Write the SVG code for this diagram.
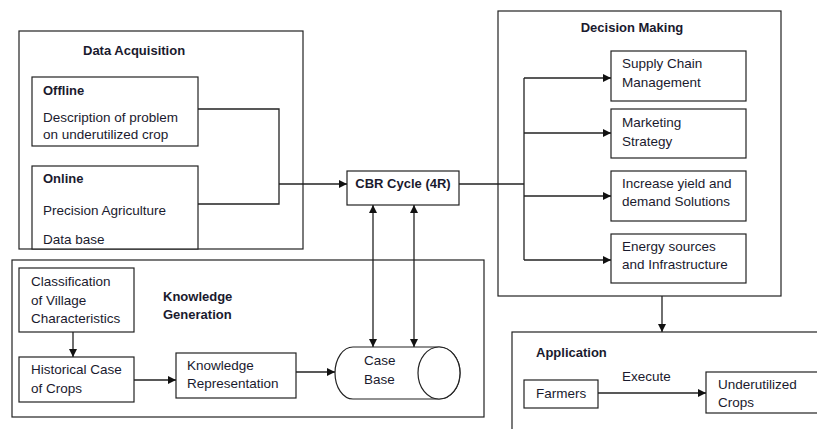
<svg xmlns="http://www.w3.org/2000/svg" width="817" height="429" viewBox="0 0 817 429">
<defs>
<marker id="ah" viewBox="0 0 10 10" refX="10" refY="5" markerWidth="8" markerHeight="8" markerUnits="userSpaceOnUse" orient="auto">
<path d="M0,0 L10,5 L0,10 z" fill="#111"/>
</marker>
<style>
rect, ellipse, path.shape { fill: #fff; stroke: #222; stroke-width: 1.2; }
.t { font-family: "Liberation Sans", Arial, sans-serif; font-size: 13.5px; fill: #1a1a2e; }
.b { font-weight: bold; font-size: 13px; }
.c { fill: none; stroke: #222; stroke-width: 1.3; }
.a { marker-end: url(#ah); }
</style>
</defs>
<rect x="0" y="0" width="817" height="429" style="fill:#fff;stroke:none"/>

<g id="data-acquisition">
<rect x="19" y="31" width="284" height="218"/>
<text class="t b" x="83" y="55">Data Acquisition</text>
</g>
<g id="offline">
<rect x="32" y="77" width="166" height="69"/>
<text class="t b" x="43" y="95">Offline</text>
<text class="t" x="43" y="122">Description of problem</text>
<text class="t" x="43" y="139">on underutilized crop</text>
</g>
<g id="online">
<rect x="32" y="166" width="166" height="83"/>
<text class="t b" x="43" y="183">Online</text>
<text class="t" x="43" y="215">Precision Agriculture</text>
<text class="t" x="43" y="244">Data base</text>
</g>

<g id="knowledge-generation">
<rect x="12" y="260" width="472" height="157"/>
<text class="t b" x="163" y="301">Knowledge</text>
<text class="t b" x="163" y="319">Generation</text>
</g>
<g id="classification">
<rect x="19" y="268" width="115" height="64"/>
<text class="t" x="31" y="286">Classification</text>
<text class="t" x="31" y="305">of Village</text>
<text class="t" x="31" y="323">Characteristics</text>
</g>
<g id="historical">
<rect x="19" y="357" width="115" height="45"/>
<text class="t" x="31" y="374">Historical Case</text>
<text class="t" x="31" y="393">of Crops</text>
</g>
<g id="knowledge-representation">
<rect x="176" y="353" width="120" height="45"/>
<text class="t" x="187" y="370">Knowledge</text>
<text class="t" x="187" y="388">Representation</text>
</g>
<g id="case-base">
<path class="shape" d="M353,347 L439,347 A21,26 0 0 1 439,399 L353,399 A18,26 0 0 1 353,347 z"/>
<ellipse cx="439" cy="373" rx="21" ry="26"/>
<text class="t" x="364" y="365">Case</text>
<text class="t" x="364" y="384">Base</text>
</g>

<g id="cbr-cycle">
<rect x="347" y="171" width="112" height="34"/>
<text class="t b" x="403" y="188" text-anchor="middle">CBR Cycle (4R)</text>
</g>

<g id="decision-making">
<rect x="498" y="11" width="283" height="285"/>
<text class="t b" x="632" y="32" text-anchor="middle">Decision Making</text>
</g>
<g id="supply-chain">
<rect x="611" y="51" width="135" height="50"/>
<text class="t" x="622" y="68">Supply Chain</text>
<text class="t" x="622" y="87">Management</text>
</g>
<g id="marketing">
<rect x="611" y="109" width="135" height="49"/>
<text class="t" x="622" y="127">Marketing</text>
<text class="t" x="622" y="146">Strategy</text>
</g>
<g id="increase-yield">
<rect x="611" y="171" width="135" height="50"/>
<text class="t" x="622" y="188">Increase yield and</text>
<text class="t" x="622" y="206">demand Solutions</text>
</g>
<g id="energy">
<rect x="611" y="234" width="135" height="49"/>
<text class="t" x="622" y="251">Energy sources</text>
<text class="t" x="622" y="269">and Infrastructure</text>
</g>

<g id="application">
<rect x="512" y="332" width="320" height="110"/>
<text class="t b" x="536" y="357">Application</text>
</g>
<g id="farmers">
<rect x="524" y="380" width="74" height="28"/>
<text class="t" x="536" y="398">Farmers</text>
</g>
<g id="underutilized">
<rect x="706" y="372" width="120" height="41"/>
<text class="t" x="718" y="389">Underutilized</text>
<text class="t" x="718" y="407">Crops</text>
</g>

<g id="connectors">
<path class="c" d="M198,109 L279,109 L279,204 L198,204"/>
<path class="c a" d="M279,184 L347,184"/>
<path class="c a" d="M373,240 L373,205"/>
<path class="c a" d="M373,240 L373,347"/>
<path class="c a" d="M414,240 L414,205"/>
<path class="c a" d="M414,240 L414,347"/>
<path class="c" d="M459,184 L524,184"/>
<path class="c" d="M524,78 L524,260"/>
<path class="c a" d="M524,78 L611,78"/>
<path class="c a" d="M524,133 L611,133"/>
<path class="c a" d="M524,196 L611,196"/>
<path class="c a" d="M524,260 L611,260"/>
<path class="c a" d="M662,296 L662,332"/>
<path class="c a" d="M73,332 L73,357"/>
<path class="c a" d="M134,380 L176,380"/>
<path class="c a" d="M296,372 L335,372"/>
<path class="c a" d="M598,393 L706,393"/>
<text class="t" x="622" y="381">Execute</text>
</g>
</svg>
